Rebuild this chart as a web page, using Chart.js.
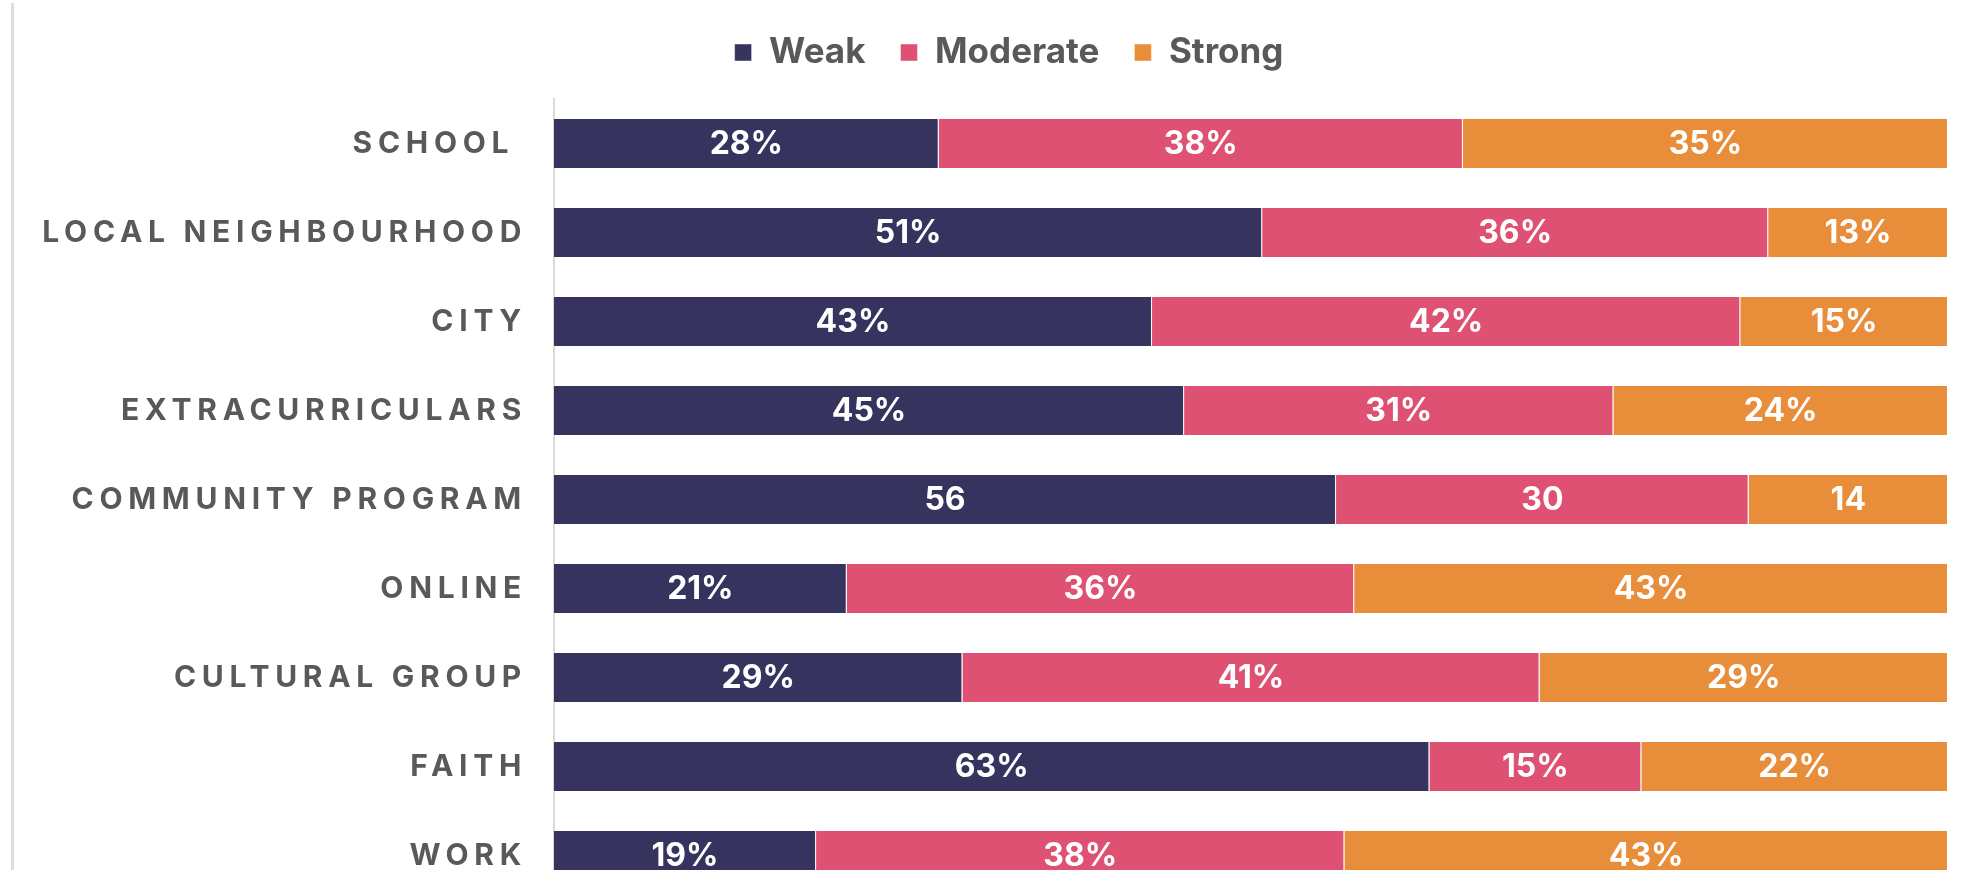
<!DOCTYPE html>
<html>
<head>
<meta charset="utf-8">
<script src="https://cdn.jsdelivr.net/npm/chart.js@4.4.1/dist/chart.umd.min.js"></script>
<style>
  html, body { margin: 0; padding: 0; background: #fff; overflow: hidden; }
  #frame { position: absolute; left: 11px; top: 3px; width: 3px; height: 900px; background: #dddddd; }
  #bonds { position: absolute; left: 0; top: 0; }
</style>
</head>
<body>
<div id="frame"></div>
<canvas id="bonds" width="1979" height="900"></canvas>
<script>
const categories = ['SCHOOL ', 'LOCAL NEIGHBOURHOOD', 'CITY', 'EXTRACURRICULARS', 'COMMUNITY PROGRAM',
                    'ONLINE', 'CULTURAL GROUP', 'FAITH', 'WORK'];
const weak     = [27.6, 50.8, 42.9, 45.2, 56.1, 21.0, 29.3, 62.8, 18.8];
const moderate = [37.6, 36.3, 42.2, 30.8, 29.6, 36.4, 41.4, 15.2, 37.9];
const strong   = [34.8, 12.9, 14.9, 24.0, 14.3, 42.6, 29.3, 22.0, 43.3];
// the community program row is printed without the % sign
const suffixes = ['%', '%', '%', '%', '', '%', '%', '%', '%'];

const seriesNames = ['Weak', 'Moderate', 'Strong'];
const seriesColors = ['#36335e', '#de5172', '#e88d39'];
const family = "'Inter', 'Open Sans', sans-serif";

// spread out the category labels like the original, and let them run past the padding
const spacedTicks = {
  id: 'spacedTicks',
  beforeDraw(chart) {
    const s = chart.scales.y;
    if (s._spaced) return;
    const draw = s.drawLabels;
    s.drawLabels = function (area) {
      const c = this.ctx;
      c.save();
      c.letterSpacing = '5.7px';
      draw.call(this, area);
      c.restore();
    };
    s._computeLabelArea = () => undefined;
    s._spaced = true;
  }
};

// white value labels in the middle of each segment
const barLabels = {
  id: 'barLabels',
  afterDatasetsDraw(chart) {
    const c = chart.ctx;
    c.save();
    c.font = '700 32px ' + family;
    c.fillStyle = '#ffffff';
    c.textAlign = 'center';
    c.textBaseline = 'middle';
    chart.data.datasets.forEach((ds, i) => {
      chart.getDatasetMeta(i).data.forEach((bar, j) => {
        const p = bar.getCenterPoint();
        c.fillText(Math.round(ds.data[j]) + suffixes[j], p.x, p.y + 1);
      });
    });
    c.restore();
  }
};

const ctx = document.getElementById('bonds');

new Chart(ctx, {
  type: 'bar',
  data: {
    labels: categories,
    datasets: [weak, moderate, strong].map((vals, i) => ({
      label: seriesNames[i],
      data: vals,
      backgroundColor: seriesColors[i]
    }))
  },
  options: {
    indexAxis: 'y',
    responsive: false,
    animation: false,
    layout: { padding: { left: 70, right: 31, top: 0, bottom: 0 } },
    datasets: {
      bar: {
        categoryPercentage: 1,
        barPercentage: 0.573,
        borderWidth: 1,
        borderColor: 'rgba(255,255,255,0.45)'
      }
    },
    plugins: {
      legend: {
        position: 'top',
        labels: {
          color: '#595959',
          font: { family: family, size: 35, weight: '700' },
          boxWidth: 17,
          boxHeight: 17,
          padding: 35
        }
      },
      tooltip: { enabled: false }
    },
    scales: {
      x: {
        stacked: true,
        min: 0,
        max: 100,
        position: 'top',
        grid: { display: false },
        border: { display: false },
        ticks: { display: false },
        afterFit(s) { s.height = 19; }
      },
      y: {
        stacked: true,
        grid: { display: false },
        border: { color: '#d9d9d9', width: 2 },
        ticks: {
          color: '#595959',
          font: { family: family, size: 30, weight: '700' },
          padding: 19
        },
        afterFit(s) {
          s.width = 484;
          s.paddingTop = 0;
          s.paddingBottom = 0;
        }
      }
    }
  },
  plugins: [spacedTicks, barLabels]
});
</script>
</body>
</html>
